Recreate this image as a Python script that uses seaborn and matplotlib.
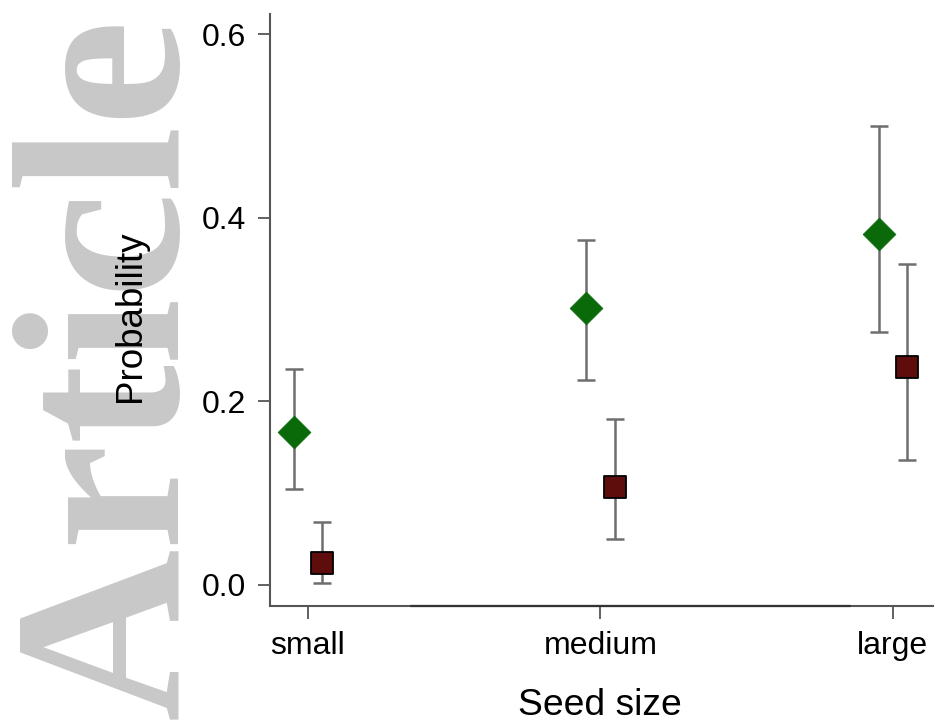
import numpy as np
import pandas as pd
import matplotlib
matplotlib.use("Agg")
import matplotlib.pyplot as plt
import seaborn as sns

# ---- data ----
sizes = ["small", "medium", "large"]
groups = ["A", "B"]
prob_a = [0.167, 0.302, 0.382]
lo_a = [0.104, 0.223, 0.276]
hi_a = [0.235, 0.376, 0.500]
prob_b = [0.024, 0.107, 0.237]
lo_b = [0.002, 0.050, 0.136]
hi_b = [0.069, 0.181, 0.350]
yticks = [0.0, 0.2, 0.4, 0.6]

df = pd.DataFrame({
    "size": sizes * 2,
    "group": ["A"] * 3 + ["B"] * 3,
    "prob": prob_a + prob_b,
    "lo": lo_a + lo_b,
    "hi": hi_a + hi_b,
})

sns.set_style("ticks")
plt.rcParams["font.family"] = ["Liberation Sans", "DejaVu Sans"]
plt.rcParams["text.color"] = "black"
plt.rcParams["axes.labelcolor"] = "black"

fig = plt.figure(figsize=(9.35, 7.24), dpi=100)

# watermark
fig.text(177 / 935, 5 / 724, "Article", rotation=90, rotation_mode="anchor",
         ha="left", va="baseline", fontsize=172, fontweight="bold", color="#c8c8c8",
         family=["Liberation Serif", "DejaVu Serif"], zorder=-5)

ax = fig.add_axes([270 / 935, 118 / 724, 663 / 935, 592 / 724])
ax.patch.set_alpha(0)
ax.set_zorder(2)

offsets = {"A": -0.048, "B": 0.048}
colors = {"A": "#0a6a0a", "B": "#5e0c0c"}
df["xpos"] = df["size"].map({s: i for i, s in enumerate(sizes)}) + df["group"].map(offsets)

for g in groups:
    sub = df[df["group"] == g]
    ax.errorbar(sub["xpos"], sub["prob"],
                yerr=[sub["prob"] - sub["lo"], sub["hi"] - sub["prob"]],
                fmt="none", ecolor="#6e6e6e", elinewidth=1.8, capsize=6.5,
                capthick=1.8, zorder=2)

sns.scatterplot(data=df[df.group == "A"], x="xpos", y="prob", marker="D", s=280,
                color=colors["A"], edgecolor=colors["A"], linewidth=0.5, ax=ax,
                zorder=3, legend=False)
sns.scatterplot(data=df[df.group == "B"], x="xpos", y="prob", marker="s", s=250,
                color=colors["B"], edgecolor="black", linewidth=1.3, ax=ax,
                zorder=3, legend=False)

ax.set_xlim(-0.13, 2.137)
ax.set_ylim(-0.023, 0.622)
ax.set_xticks(range(len(sizes)))
ax.set_xticklabels(sizes)
ax.set_yticks(yticks)
ax.set_yticklabels([f"{v:.1f}" for v in yticks])
ax.tick_params(axis="both", labelsize=23, length=9, width=1.3, color="#555555",
               labelcolor="black")
ax.tick_params(axis="x", pad=9)
ax.tick_params(axis="y", pad=8)

sns.despine(ax=ax)
for sp in ["left", "bottom"]:
    ax.spines[sp].set_color("#555555")
    ax.spines[sp].set_linewidth(1.5)
ax.axhline(-0.023, xmin=0.213, xmax=0.875, color="#333333", lw=1.6,
           clip_on=False, zorder=4)

ax.set_xlabel("Seed size", fontsize=26.8, color="black")
ax.set_ylabel("Probability", fontsize=26.5, color="black")
ax.xaxis.set_label_coords(0.498, -0.138)
ax.yaxis.set_label_coords(-0.21, 0.49)
ax.yaxis.label.set_verticalalignment("center")

fig.savefig("out.png", dpi=100)
